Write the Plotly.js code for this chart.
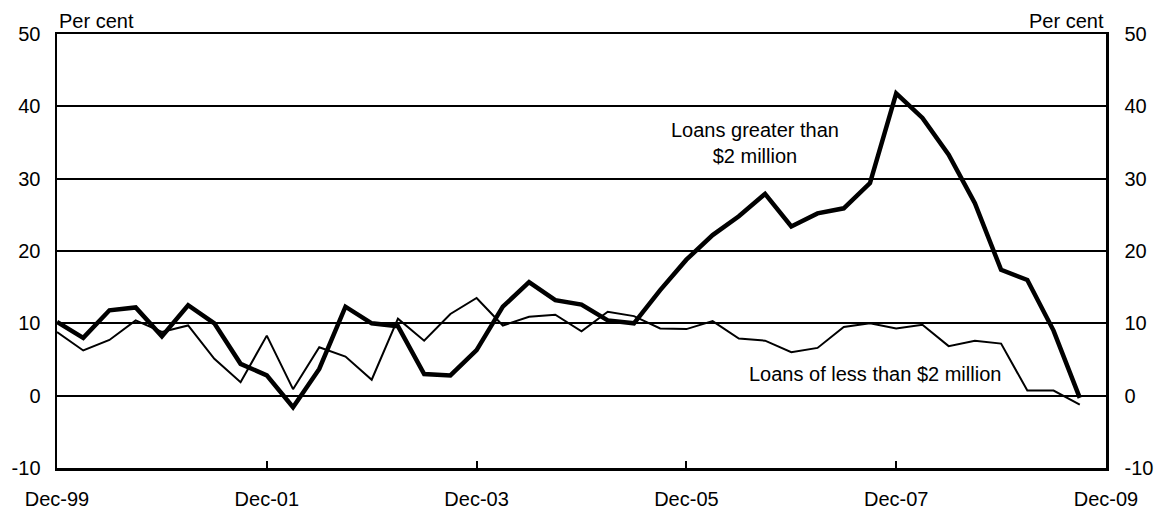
<!DOCTYPE html>
<html>
<head>
<meta charset="utf-8">
<script src="https://cdn.plot.ly/plotly-3.0.1.min.js"></script>
<style>html,body{margin:0;padding:0;background:#fff;}#chart{width:1155px;height:510px;}</style>
</head>
<body>
<div id="chart"></div>
<script>
// Quarterly, Dec-99 .. Sep-09 (index 0 = Dec-99)
const quarterIndex = [];
for (let i = 0; i < 40; i++) quarterIndex.push(i);

const loansGreater2m = [10.2, 8.0, 11.8, 12.2, 8.2, 12.5, 10.0, 4.4, 2.8, -1.6,
  3.7, 12.3, 10.0, 9.6, 3.0, 2.8, 6.3, 12.3, 15.7, 13.2,
  12.6, 10.4, 10.0, 14.6, 18.8, 22.2, 24.8, 27.9, 23.4, 25.2,
  25.9, 29.4, 41.8, 38.4, 33.3, 26.6, 17.4, 16.0, 9.0, -0.3];

const loansLess2m = [8.8, 6.25, 7.7, 10.4, 8.8, 9.7, 5.1, 1.85, 8.3, 0.9,
  6.7, 5.4, 2.2, 10.65, 7.6, 11.3, 13.5, 9.7, 10.9, 11.2,
  8.9, 11.6, 11.0, 9.3, 9.2, 10.3, 7.9, 7.6, 6.0, 6.6,
  9.5, 10.0, 9.3, 9.8, 6.85, 7.6, 7.2, 0.7, 0.7, -1.25];

const tickPositions = [0, 8, 16, 24, 32, 40];
const tickLabels = ['Dec-99', 'Dec-01', 'Dec-03', 'Dec-05', 'Dec-07', 'Dec-09'];
const yTicks = [-10, 0, 10, 20, 30, 40, 50];
const yTickLabels = ['-10', '0', '10', '20', '30', '40', '50'];

const FONT = 'Liberation Sans, Arial, sans-serif';

const traces = [
  {x: quarterIndex, y: loansLess2m, mode: 'lines', line: {color: '#000', width: 2}, hoverinfo: 'skip', name: 'Loans of less than $2 million'},
  {x: quarterIndex, y: loansGreater2m, mode: 'lines', line: {color: '#000', width: 4.5}, hoverinfo: 'skip', name: 'Loans greater than $2 million'},
  {x: quarterIndex, y: loansLess2m, yaxis: 'y2', mode: 'lines', opacity: 0, line: {color: '#000', width: 1}, hoverinfo: 'skip', showlegend: false}
];

const layout = {
  width: 1155, height: 510,
  margin: {l: 57, r: 49, t: 34, b: 42},
  paper_bgcolor: '#fff', plot_bgcolor: '#fff',
  showlegend: false,
  font: {family: FONT, size: 20, color: '#000'},
  xaxis: {
    range: [0, 40], tickvals: tickPositions, ticktext: tickLabels,
    showgrid: false, zeroline: false,
    showline: true, linecolor: '#000', linewidth: 2.5, mirror: true,
    ticks: 'inside', ticklen: 7, tickwidth: 2, tickcolor: '#000',
    ticklabelstandoff: 11,
    tickfont: {family: FONT, size: 20, color: '#000'}
  },
  yaxis: {
    range: [-10, 50], tickvals: yTicks, ticktext: yTickLabels, ticks: '',
    showgrid: true, gridcolor: '#000', gridwidth: 2,
    zeroline: false, showline: true, linecolor: '#000', linewidth: 2.5,
    ticklabelstandoff: 10,
    tickfont: {family: FONT, size: 20, color: '#000'}
  },
  yaxis2: {
    range: [-10, 50], tickvals: yTicks, ticktext: yTickLabels, ticks: '', overlaying: 'y', side: 'right',
    showgrid: false, zeroline: false, showline: true, linecolor: '#000', linewidth: 2.5,
    ticklabelstandoff: 12,
    tickfont: {family: FONT, size: 20, color: '#000'}
  },
  annotations: [
    {xref: 'paper', yref: 'paper', x: 0, y: 1, xanchor: 'left', yanchor: 'bottom', text: 'Per cent', showarrow: false, font: {family: FONT, size: 20, color: '#000'}},
    {xref: 'paper', yref: 'paper', x: 1, y: 1, xanchor: 'right', yanchor: 'bottom', text: 'Per cent', showarrow: false, font: {family: FONT, size: 20, color: '#000'}},
    {xref: 'x', yref: 'y', x: 26.6, y: 34.9, text: 'Loans greater than<br>$2 million', showarrow: false, align: 'center', font: {family: FONT, size: 20, color: '#000'}},
    {xref: 'x', yref: 'y', x: 31.2, y: 3.0, text: 'Loans of less than $2 million', showarrow: false, font: {family: FONT, size: 20, color: '#000'}}
  ]
};

Plotly.newPlot('chart', traces, layout, {staticPlot: true, displayModeBar: false});
</script>
</body>
</html>
